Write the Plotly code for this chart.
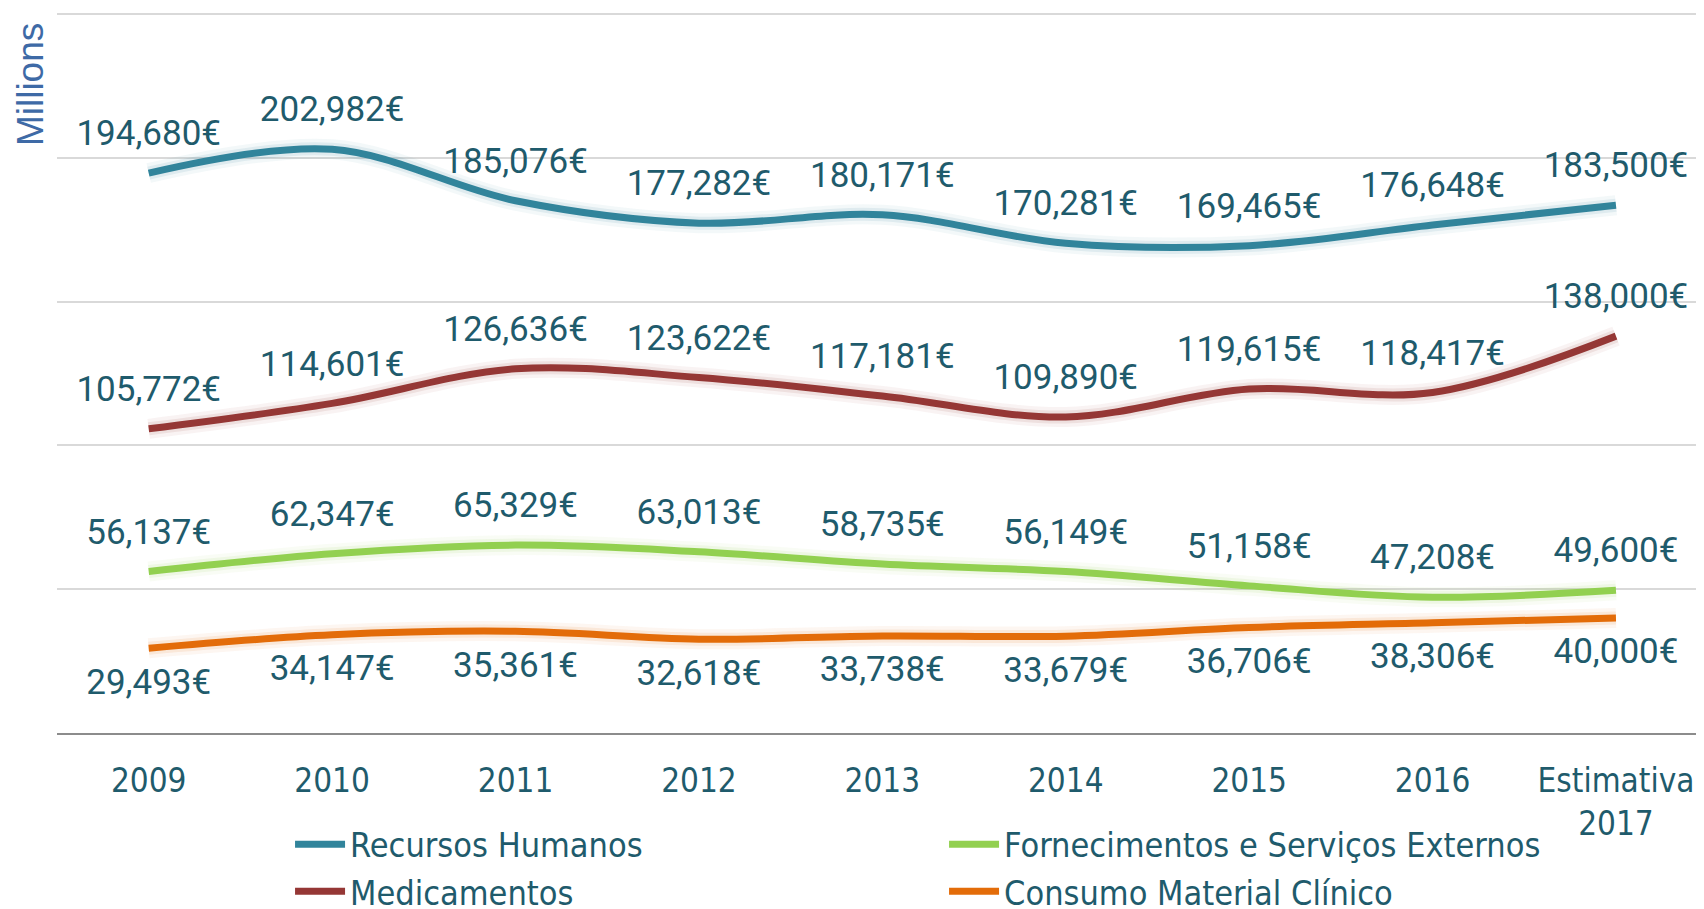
import plotly.graph_objects as go

categories = ["2009", "2010", "2011", "2012", "2013", "2014", "2015", "2016", "Estimativa<br>2017"]
recursos_humanos = [194.680, 202.982, 185.076, 177.282, 180.171, 170.281, 169.465, 176.648, 183.500]
medicamentos = [105.772, 114.601, 126.636, 123.622, 117.181, 109.890, 119.615, 118.417, 138.000]
fornecimentos = [56.137, 62.347, 65.329, 63.013, 58.735, 56.149, 51.158, 47.208, 49.600]
consumo = [29.493, 34.147, 35.361, 32.618, 33.738, 33.679, 36.706, 38.306, 40.000]

series = [
    ("Recursos Humanos", recursos_humanos, "#31849B", (49, 132, 155), "top center", 1),
    ("Medicamentos", medicamentos, "#953735", (149, 55, 53), "top center", 3),
    ("Fornecimentos e Serviços Externos", fornecimentos, "#92D050", (146, 208, 80), "top center", 2),
    ("Consumo Material Clínico", consumo, "#E36C09", (227, 108, 9), "bottom center", 4),
]

TEXT = "#1F5B6C"
NARROW = "Liberation Sans Narrow, DejaVu Sans Condensed, Arial Narrow, sans-serif"

fig = go.Figure()

# soft glow under lines
for name, vals, col, rgb, pos, rank in series:
    for w, a in [(20, 0.06), (13, 0.10)]:
        fig.add_trace(go.Scatter(
            x=categories, y=vals, mode="lines",
            line=dict(color=f"rgba({rgb[0]},{rgb[1]},{rgb[2]},{a})", width=w, shape="spline", smoothing=1),
            showlegend=False, hoverinfo="skip"))

for name, vals, col, rgb, pos, rank in series:
    labels = [f"{round(v * 1000):,}€" for v in vals]
    fig.add_trace(go.Scatter(
        x=categories, y=vals, name=name, mode="lines+markers+text",
        line=dict(color=col, width=7, shape="spline", smoothing=1),
        marker=dict(size=29, color="rgba(0,0,0,0)", line=dict(width=0)),
        text=labels, textposition=pos,
        textfont=dict(family="Roboto, sans-serif", size=35, color=TEXT),
        legendrank=rank, cliponaxis=False))

fig.update_layout(
    width=1696, height=901,
    margin=dict(l=49, r=0, t=4, b=176, autoexpand=False),
    plot_bgcolor="white", paper_bgcolor="white",
    showlegend=True,
    legend=dict(orientation="h", x=0.1415, xanchor="left", y=-0.1145, yanchor="top",
                entrywidth=589, entrywidthmode="pixels",
                font=dict(family=NARROW, size=34, color=TEXT),
                bgcolor="rgba(0,0,0,0)", itemwidth=50, tracegroupgap=0),
    xaxis=dict(type="category", range=[-0.5, 8.48], showgrid=False, automargin=False,
               showline=True, linecolor="#8C8C8C", linewidth=2,
               ticks="", ticklabelstandoff=17,
               tickfont=dict(family=NARROW, size=33, color=TEXT)),
    yaxis=dict(range=[0, 250.7], tick0=0, dtick=50, showticklabels=False, showgrid=True, automargin=False,
               gridcolor="#D9D9D9", gridwidth=1.5, zeroline=False, showline=False),
    annotations=[dict(text="Millions", textangle=-90, xref="paper", yref="paper",
                      x=-0.0164, y=0.9, xanchor="center", yanchor="middle", showarrow=False,
                      font=dict(family="Liberation Sans, sans-serif", size=37, color="#3E6AA6"))],
)

fig.write_html("out.html")
